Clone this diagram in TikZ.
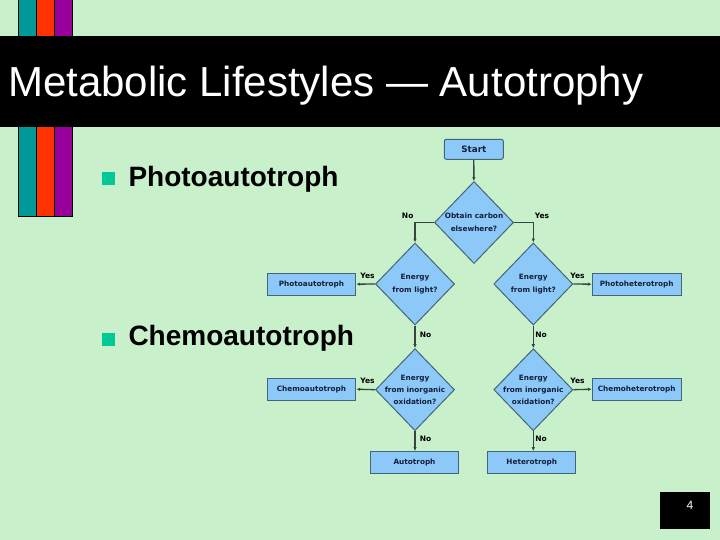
\documentclass[tikz,border=0pt]{standalone}
\usepackage{fontspec}
\setmainfont{Liberation Sans}
\newfontfamily\flowfont{DejaVu Sans}
\usetikzlibrary{shapes.geometric,arrows.meta}
\definecolor{bgcol}{RGB}{200,241,203}
\definecolor{barA}{RGB}{0,153,153}
\definecolor{barB}{RGB}{255,51,0}
\definecolor{barC}{RGB}{153,0,153}
\definecolor{bulcol}{RGB}{0,200,150}
\definecolor{boxfill}{RGB}{140,201,248}
\definecolor{boxline}{RGB}{70,100,120}
\definecolor{arrcol}{RGB}{55,70,60}
\definecolor{flowtext}{RGB}{20,30,60}
\tikzset{
  fbox/.style={draw=boxline, fill=boxfill, line width=1pt, inner sep=0pt,
    font=\flowfont\bfseries\fontsize{7.3}{9}\selectfont, text=flowtext},
  dshape/.style={diamond, draw=boxline, fill=boxfill, line width=1pt, inner sep=0pt,
    minimum width=79pt, minimum height=82pt},
  dtext/.style={font=\flowfont\bfseries\fontsize{7.3}{12.5}\selectfont, text=flowtext, align=center, inner sep=0pt},
  flab/.style={font=\flowfont\bfseries\fontsize{7.5}{9}\selectfont, text=black, inner sep=0pt},
  farrow/.style={draw=arrcol, line width=1.3pt, -{Latex[length=4pt,width=3.5pt]}},
  bar/.style={draw=black, line width=0.8pt},
  bullet/.style={fill=bulcol, minimum size=13pt, inner sep=0pt},
  btext/.style={font=\bfseries\fontsize{28}{30}\selectfont, anchor=base west, inner sep=0pt}
}
\begin{document}
\begin{tikzpicture}[x=1pt,y=-1pt]
\fill[bgcol] (0,0) rectangle (720,540);
\useasboundingbox (0,0) rectangle (720,540);
% bars
\filldraw[bar, fill=barA] (18,-2) rectangle (36.3,216.7);
\filldraw[bar, fill=barB] (36.3,-2) rectangle (54.6,216.7);
\filldraw[bar, fill=barC] (54.6,-2) rectangle (72.7,216.7);
% title band
\fill[black] (0,36) rectangle (720,126.7);
\node[anchor=base west, inner sep=0pt, text=white, font=\fontsize{42}{44}\selectfont] (title) at (8,96.7) {Metabolic Lifestyles — Autotrophy};
% bullets
\node[bullet] (b1) at (108.5,178.5) {};
\node[btext] (t1) at (128.3,186.7) {Photoautotroph};
\node[bullet] (b2) at (108.5,339.5) {};
\node[btext] (t2) at (128.3,345.5) {Chemoautotroph};
% flowchart
\node[fbox, rounded corners=2pt, minimum width=59pt, minimum height=20pt, font=\flowfont\bfseries\fontsize{8.8}{10}\selectfont] (start) at (473.8,149.3) {Start};
\node[dshape] (d1) at (474,222.5) {};
\node[dtext] (d1t) at (d1) {Obtain carbon\\elsewhere?};
\node[dshape] (d2) at (415,284) {};
\node[dtext] (d2t) at (d2) {Energy\\from light?};
\node[dshape] (d3) at (533.3,284) {};
\node[dtext] (d3t) at (d3) {Energy\\from light?};
\node[dshape] (d4) at (415,389.7) {};
\node[dtext, font=\flowfont\bfseries\fontsize{7.3}{11.8}\selectfont] (d4t) at (d4) {Energy\\from inorganic\\oxidation?};
\node[dshape] (d5) at (533.3,389.7) {};
\node[dtext, font=\flowfont\bfseries\fontsize{7.3}{11.8}\selectfont] (d5t) at (d5) {Energy\\from inorganic\\oxidation?};
\node[fbox, minimum width=88.4pt, minimum height=21.7pt] (pa) at (311.5,284.2) {Photoautotroph};
\node[fbox, minimum width=88.7pt, minimum height=21.7pt] (ph) at (636.7,284.2) {Photoheterotroph};
\node[fbox, minimum width=88.4pt, minimum height=21.7pt] (ca) at (311.5,389.2) {Chemoautotroph};
\node[fbox, minimum width=88.7pt, minimum height=21.7pt] (ch) at (636.7,389.2) {Chemoheterotroph};
\node[fbox, minimum width=87.7pt, minimum height=21.7pt] (au) at (414.5,462.5) {Autotroph};
\node[fbox, minimum width=88.3pt, minimum height=21.7pt] (he) at (531.8,462.5) {Heterotroph};
% connectors
\draw[farrow] (start) -- (d1);
\draw[farrow] (d1.west) -| (d2.north);
\draw[farrow] (d1.east) -| (d3.north);
\draw[farrow] (d2.west) -- (pa.east);
\draw[farrow] (d3.east) -- (ph.west);
\draw[farrow] (d2.south) -- (d4.north);
\draw[farrow] (d3.south) -- (d5.north);
\draw[farrow] (d4.west) -- (ca.east);
\draw[farrow] (d5.east) -- (ch.west);
\draw[farrow] (d4.south) -- (d4.south |- au.north);
\draw[farrow] (d5.south) -- (d5.south |- he.north);
% labels
\node[flab] (l1) at (407.7,216) {No};
\node[flab] (l2) at (542,216) {Yes};
\node[flab] (l3) at (367.5,276) {Yes};
\node[flab] (l4) at (577.5,276) {Yes};
\node[flab] (l5) at (425.5,335) {No};
\node[flab] (l6) at (541,335) {No};
\node[flab] (l7) at (367.5,380.7) {Yes};
\node[flab] (l8) at (577.5,380.7) {Yes};
\node[flab] (l9) at (425.5,439.3) {No};
\node[flab] (l10) at (541,439.3) {No};
% page number
\fill[black] (660,491.7) rectangle (710,529);
\node[text=white, font=\fontsize{12}{14}\selectfont, inner sep=0pt] (pg) at (690,505) {4};
\end{tikzpicture}
\end{document}
